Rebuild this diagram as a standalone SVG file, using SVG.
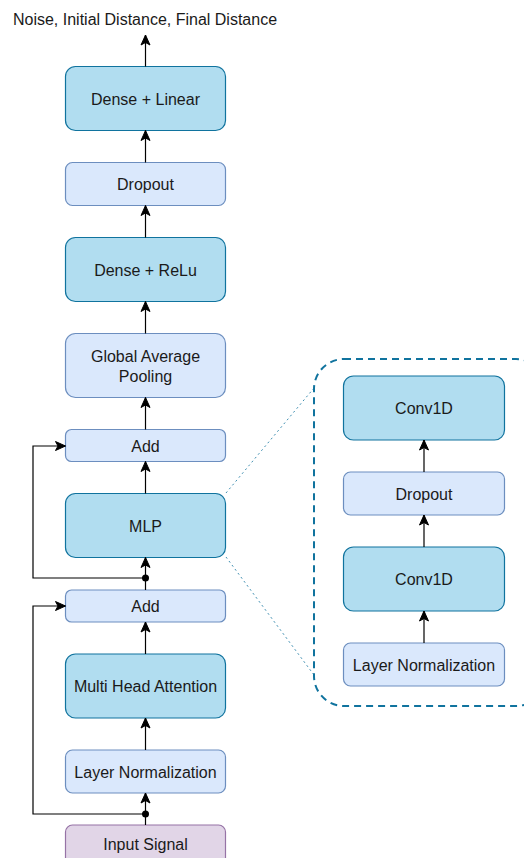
<svg xmlns="http://www.w3.org/2000/svg" width="524" height="858" viewBox="0 0 524 858">
  <style>
    .dark { fill: #b1ddf0; stroke: #10739e; stroke-width: 1.2; }
    .light { fill: #dae8fc; stroke: #6c8ebf; stroke-width: 1.2; }
    .input { fill: #e1d5e7; stroke: #9673a6; stroke-width: 1.2; }
    .lbl { font-family: "Liberation Sans", Arial, sans-serif; font-size: 16px; fill: #1a1a1a; text-anchor: middle; }
    .wire { fill: none; stroke: #000; stroke-width: 1.2; }
    .arrow { marker-end: url(#head); }
    .zoom { fill: none; stroke: #10739e; stroke-width: 1; stroke-dasharray: 2 3; opacity: 0.8; }
    .panel { fill: none; stroke: #10739e; stroke-width: 2; stroke-dasharray: 7 5; }
  </style>
  <defs>
    <marker id="head" markerUnits="userSpaceOnUse" markerWidth="12" markerHeight="12" viewBox="-11 -6 12 12" refX="0" refY="0" orient="auto">
      <path d="M-10,-4.5 L0,0 L-10,4.5 L-7.5,0 Z" fill="#000" stroke="#000" stroke-width="1"/>
    </marker>
  </defs>

  <!-- output label -->
  <text class="lbl" x="145" y="24.5">Noise, Initial Distance, Final Distance</text>

  <!-- MLP detail panel -->
  <g id="mlp-detail">
    <rect class="panel" x="314" y="359" width="232" height="347" rx="30"/>
    <path class="zoom" d="M226,493 L314,388"/>
    <path class="zoom" d="M226,557 L314,675"/>
  </g>

  <!-- main stack -->
  <g id="dense-linear">
    <rect class="dark" x="65.5" y="66.5" width="160" height="64" rx="10"/>
    <text class="lbl" x="145.5" y="104.5">Dense + Linear</text>
  </g>
  <g id="dropout">
    <rect class="light" x="65.5" y="162.5" width="160" height="43" rx="7"/>
    <text class="lbl" x="145.5" y="189.5">Dropout</text>
  </g>
  <g id="dense-relu">
    <rect class="dark" x="65.5" y="237.5" width="160" height="64" rx="10"/>
    <text class="lbl" x="145.5" y="275.5">Dense + ReLu</text>
  </g>
  <g id="global-average-pooling">
    <rect class="light" x="65.5" y="333.5" width="160" height="64" rx="10"/>
    <text class="lbl" x="145.5" y="362">Global Average</text>
    <text class="lbl" x="145.5" y="382">Pooling</text>
  </g>
  <g id="add-2">
    <rect class="light" x="65.5" y="429.5" width="160" height="32" rx="6"/>
    <text class="lbl" x="145.5" y="451.5">Add</text>
  </g>
  <g id="mlp">
    <rect class="dark" x="65.5" y="493.5" width="160" height="64" rx="10"/>
    <text class="lbl" x="145.5" y="531.5">MLP</text>
  </g>
  <g id="add-1">
    <rect class="light" x="65.5" y="590" width="160" height="32" rx="6"/>
    <text class="lbl" x="145.5" y="612">Add</text>
  </g>
  <g id="multi-head-attention">
    <rect class="dark" x="65.5" y="654" width="160" height="64" rx="10"/>
    <text class="lbl" x="145.5" y="692">Multi Head Attention</text>
  </g>
  <g id="layer-norm">
    <rect class="light" x="65.5" y="750" width="160" height="43" rx="7"/>
    <text class="lbl" x="145.5" y="777.5">Layer Normalization</text>
  </g>
  <g id="input-signal">
    <rect class="input" x="65.5" y="825" width="160" height="50" rx="7"/>
    <text class="lbl" x="145.5" y="850">Input Signal</text>
  </g>

  <!-- MLP internals -->
  <g id="conv1d-2">
    <rect class="dark" x="343.5" y="376" width="161" height="64" rx="10"/>
    <text class="lbl" x="424" y="414">Conv1D</text>
  </g>
  <g id="mlp-dropout">
    <rect class="light" x="343.5" y="472" width="161" height="43" rx="7"/>
    <text class="lbl" x="424" y="499.5">Dropout</text>
  </g>
  <g id="conv1d-1">
    <rect class="dark" x="343.5" y="547" width="161" height="64" rx="10"/>
    <text class="lbl" x="424" y="585">Conv1D</text>
  </g>
  <g id="mlp-layer-norm">
    <rect class="light" x="343.5" y="643" width="161" height="43" rx="7"/>
    <text class="lbl" x="424" y="670.5">Layer Normalization</text>
  </g>

  <!-- connectors -->
  <g id="connectors">
    <path class="wire arrow" d="M145.5,66.5 V35"/>
    <path class="wire arrow" d="M145.5,162.5 V130.5"/>
    <path class="wire arrow" d="M145.5,237.5 V205.5"/>
    <path class="wire arrow" d="M145.5,333.5 V301.5"/>
    <path class="wire arrow" d="M145.5,429.5 V397.5"/>
    <path class="wire arrow" d="M145.5,493.5 V461.5"/>
    <path class="wire arrow" d="M145.5,590 V557.5"/>
    <path class="wire arrow" d="M145.5,654 V622"/>
    <path class="wire arrow" d="M145.5,750 V718"/>
    <path class="wire arrow" d="M145.5,825 V793"/>
    <path class="wire arrow" d="M145.5,578 H33 V446 H65.5"/>
    <circle cx="145.5" cy="578" r="3.5" fill="#000"/>
    <path class="wire arrow" d="M145.5,814 H33 V606 H65.5"/>
    <circle cx="145.5" cy="814" r="3.5" fill="#000"/>
    <path class="wire arrow" d="M424,472 V440"/>
    <path class="wire arrow" d="M424,547 V515"/>
    <path class="wire arrow" d="M424,643 V611"/>
  </g>
</svg>
